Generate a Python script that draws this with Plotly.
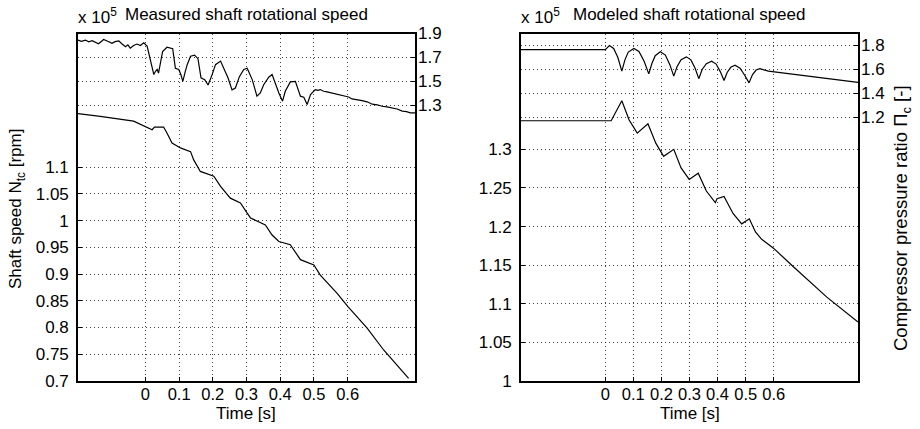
import plotly.graph_objects as go

# ---------------- data ----------------
meas_speed_t = [-0.200, -0.134, -0.035, -0.005, 0.020, 0.027, 0.054, 0.064, 0.079, 0.104,
                0.134, 0.143, 0.163, 0.203, 0.223, 0.252, 0.282, 0.302, 0.312, 0.356,
                0.376, 0.396, 0.430, 0.460, 0.500, 0.519, 0.569, 0.601, 0.658, 0.707, 0.781]
meas_speed_n = [1.200, 1.195, 1.186, 1.178, 1.170, 1.175, 1.175, 1.164, 1.145, 1.136,
                1.129, 1.114, 1.092, 1.083, 1.064, 1.042, 1.033, 1.014, 1.005, 0.992,
                0.973, 0.961, 0.955, 0.927, 0.917, 0.898, 0.864, 0.839, 0.799, 0.758, 0.705]

meas_pr_t = [-0.200, -0.190, -0.178, -0.168, -0.158, -0.148, -0.139, -0.130, -0.124, -0.112,
             -0.099, -0.090, -0.079, -0.070, -0.059, -0.052, -0.045, -0.035, -0.025, -0.015,
             -0.005, 0.005, 0.015, 0.025, 0.030, 0.035, 0.039, 0.045, 0.051, 0.064,
             0.075, 0.081, 0.089, 0.099, 0.105, 0.111, 0.118, 0.124, 0.134, 0.146,
             0.156, 0.165, 0.176, 0.186, 0.198, 0.208, 0.223, 0.232, 0.245, 0.257,
             0.267, 0.279, 0.292, 0.302, 0.309, 0.317, 0.331, 0.341, 0.351, 0.366,
             0.376, 0.386, 0.396, 0.407, 0.415, 0.430, 0.445, 0.460, 0.470, 0.480,
             0.490, 0.504, 0.512, 0.519, 0.529, 0.539, 0.552, 0.564, 0.578, 0.593,
             0.603, 0.613, 0.628, 0.643, 0.658, 0.673, 0.688, 0.702, 0.717, 0.732,
             0.747, 0.762, 0.775, 0.786, 0.801]
meas_pr_v = [1.845, 1.835, 1.845, 1.830, 1.840, 1.825, 1.815, 1.835, 1.850, 1.835,
             1.818, 1.832, 1.838, 1.815, 1.790, 1.805, 1.778, 1.800, 1.812, 1.800,
             1.822, 1.795, 1.680, 1.557, 1.585, 1.600, 1.570, 1.650, 1.750, 1.785,
             1.780, 1.773, 1.610, 1.600, 1.560, 1.500, 1.580, 1.640, 1.710, 1.720,
             1.690, 1.530, 1.515, 1.470, 1.557, 1.640, 1.670, 1.610, 1.530, 1.430,
             1.445, 1.540, 1.600, 1.610, 1.560, 1.515, 1.377, 1.404, 1.473, 1.535,
             1.557, 1.473, 1.404, 1.335, 1.418, 1.496, 1.500, 1.377, 1.368, 1.307,
             1.390, 1.432, 1.425, 1.432, 1.418, 1.413, 1.405, 1.396, 1.388, 1.377,
             1.370, 1.354, 1.350, 1.340, 1.330, 1.310, 1.305, 1.293, 1.288, 1.279,
             1.270, 1.252, 1.248, 1.238, 1.238]

mod_speed_t = [-0.300, 0.021, 0.059, 0.085, 0.114, 0.152, 0.180, 0.208, 0.244, 0.270,
               0.299, 0.331, 0.360, 0.385, 0.392, 0.398, 0.423, 0.455, 0.486, 0.513,
               0.535, 0.557, 0.599, 0.670, 0.789, 0.900]
mod_speed_n = [1.337, 1.337, 1.363, 1.338, 1.321, 1.333, 1.308, 1.291, 1.300, 1.276,
               1.261, 1.269, 1.246, 1.233, 1.231, 1.236, 1.239, 1.217, 1.2035, 1.210,
               1.193, 1.1835, 1.172, 1.148, 1.1086, 1.0765]

mod_pr_t = [-0.300, 0.000, 0.015, 0.030, 0.045, 0.059, 0.070, 0.082, 0.102, 0.120,
            0.138, 0.155, 0.166, 0.178, 0.196, 0.214, 0.230, 0.244, 0.256, 0.270,
            0.289, 0.305, 0.320, 0.333, 0.345, 0.360, 0.379, 0.395, 0.410, 0.423,
            0.434, 0.447, 0.462, 0.480, 0.497, 0.512, 0.524, 0.537, 0.551, 0.565,
            0.581, 0.900]
mod_pr_v = [1.766, 1.766, 1.800, 1.775, 1.700, 1.586, 1.680, 1.745, 1.775, 1.750,
            1.670, 1.563, 1.650, 1.715, 1.747, 1.720, 1.640, 1.544, 1.625, 1.682,
            1.705, 1.680, 1.610, 1.523, 1.600, 1.648, 1.668, 1.645, 1.580, 1.508,
            1.575, 1.618, 1.635, 1.610, 1.550, 1.488, 1.555, 1.595, 1.606, 1.598,
            1.586, 1.492]

time_ticks = [0, 0.1, 0.2, 0.3, 0.4, 0.5, 0.6]
time_tick_text = ["0", "0.1", "0.2", "0.3", "0.4", "0.5", "0.6"]
left_speed_ticks = [0.7, 0.75, 0.8, 0.85, 0.9, 0.95, 1.0, 1.05, 1.1]
left_speed_text = ["0.7", "0.75", "0.8", "0.85", "0.9", "0.95", "1", "1.05", "1.1"]
left_pr_ticks = [1.3, 1.5, 1.7, 1.9]
right_speed_ticks = [1.0, 1.05, 1.1, 1.15, 1.2, 1.25, 1.3]
right_speed_text = ["1", "1.05", "1.1", "1.15", "1.2", "1.25", "1.3"]
right_pr_ticks = [1.2, 1.4, 1.6, 1.8]

# ---------------- figure ----------------
W, H = 920, 429
def fx(p): return p / W
def fy(p): return 1 - p / H

FONT = "Liberation Sans, Arial, Helvetica, sans-serif"
FS = 17
LINE = dict(color="black", width=1.2)

fig = go.Figure()
fig.add_trace(go.Scatter(x=meas_speed_t, y=meas_speed_n, mode="lines", line=LINE,
                         xaxis="x", yaxis="y", showlegend=False))
fig.add_trace(go.Scatter(x=meas_pr_t, y=meas_pr_v, mode="lines", line=LINE,
                         xaxis="x", yaxis="y2", showlegend=False))
fig.add_trace(go.Scatter(x=mod_speed_t, y=mod_speed_n, mode="lines", line=LINE,
                         xaxis="x2", yaxis="y3", showlegend=False))
fig.add_trace(go.Scatter(x=mod_pr_t, y=mod_pr_v, mode="lines", line=LINE,
                         xaxis="x2", yaxis="y4", showlegend=False))

ydom = [fy(381), fy(33.5)]
grid = dict(showgrid=True, gridcolor="rgba(0,0,0,0.75)", gridwidth=1, griddash="1px,3px",
            zeroline=False, ticks="inside", ticklen=4, tickcolor="black",
            tickfont=dict(family=FONT, size=FS, color="black"))
xgrid = dict(grid, tickfont=dict(family=FONT, size=16.5, color="black"))
frame = dict(showline=True, linecolor="black", linewidth=1.6)

fig.update_layout(
    width=W, height=H, autosize=False,
    margin=dict(l=0, r=0, t=0, b=0, pad=0, autoexpand=False),
    paper_bgcolor="white", plot_bgcolor="white",
    font=dict(family=FONT, size=FS, color="black"),
    xaxis=dict(domain=[fx(78), fx(415)], range=[-0.2, 0.8], anchor="y",
               tickvals=time_ticks, ticktext=time_tick_text, mirror=True,
               ticklabelstandoff=-3, **frame, **xgrid),
    yaxis=dict(domain=ydom, range=[0.7, 1.35], anchor="x",
               tickvals=left_speed_ticks, ticktext=left_speed_text, mirror=True,
               ticklabelstandoff=4, **frame, **grid),
    yaxis2=dict(overlaying="y", side="right", anchor="x", range=[-1.0, 1.9],
                tickvals=left_pr_ticks, ticklabelstandoff=2, **grid),
    xaxis2=dict(domain=[fx(521), fx(858)], range=[-0.3, 0.9], anchor="y3",
                tickvals=time_ticks, ticktext=time_tick_text, mirror=True,
                ticklabelstandoff=-3, **frame, **xgrid),
    yaxis3=dict(domain=ydom, range=[1.0, 1.45], anchor="x2",
                tickvals=right_speed_ticks, ticktext=right_speed_text, mirror=True,
                ticklabelstandoff=4, **frame, **grid),
    yaxis4=dict(overlaying="y3", side="right", anchor="x2", range=[-1.0, 1.9],
                tickvals=right_pr_ticks, ticklabelstandoff=2, **grid),
)

ann = []
def A(text, x, y, size=FS, **kw):
    d = dict(text=text, x=fx(x), y=fy(y), xref="paper", yref="paper", showarrow=False,
             font=dict(family=FONT, size=size, color="black"))
    d.update(kw)
    ann.append(d)

A("Measured shaft rotational speed", 246.5, 14, xanchor="center", yanchor="middle")
A("Modeled shaft rotational speed", 689.5, 14, xanchor="center", yanchor="middle")
A("x 10<sup>5</sup>", 76, 16, xanchor="left", yanchor="middle")
A("x 10<sup>5</sup>", 519, 16, xanchor="left", yanchor="middle")
A("Time [s]", 246.5, 413, xanchor="center", yanchor="middle")
A("Time [s]", 689.5, 413, xanchor="center", yanchor="middle")
A("Shaft speed N<sub>tc</sub> [rpm]", 17, 209, xanchor="center", yanchor="middle", textangle=-90)
A("Compressor pressure ratio Π<sub>c</sub> [-]", 902, 218, size=18.5,
  xanchor="center", yanchor="middle", textangle=-90)
fig.update_layout(annotations=ann)

fig.write_html("out.html", config={"responsive": False})
